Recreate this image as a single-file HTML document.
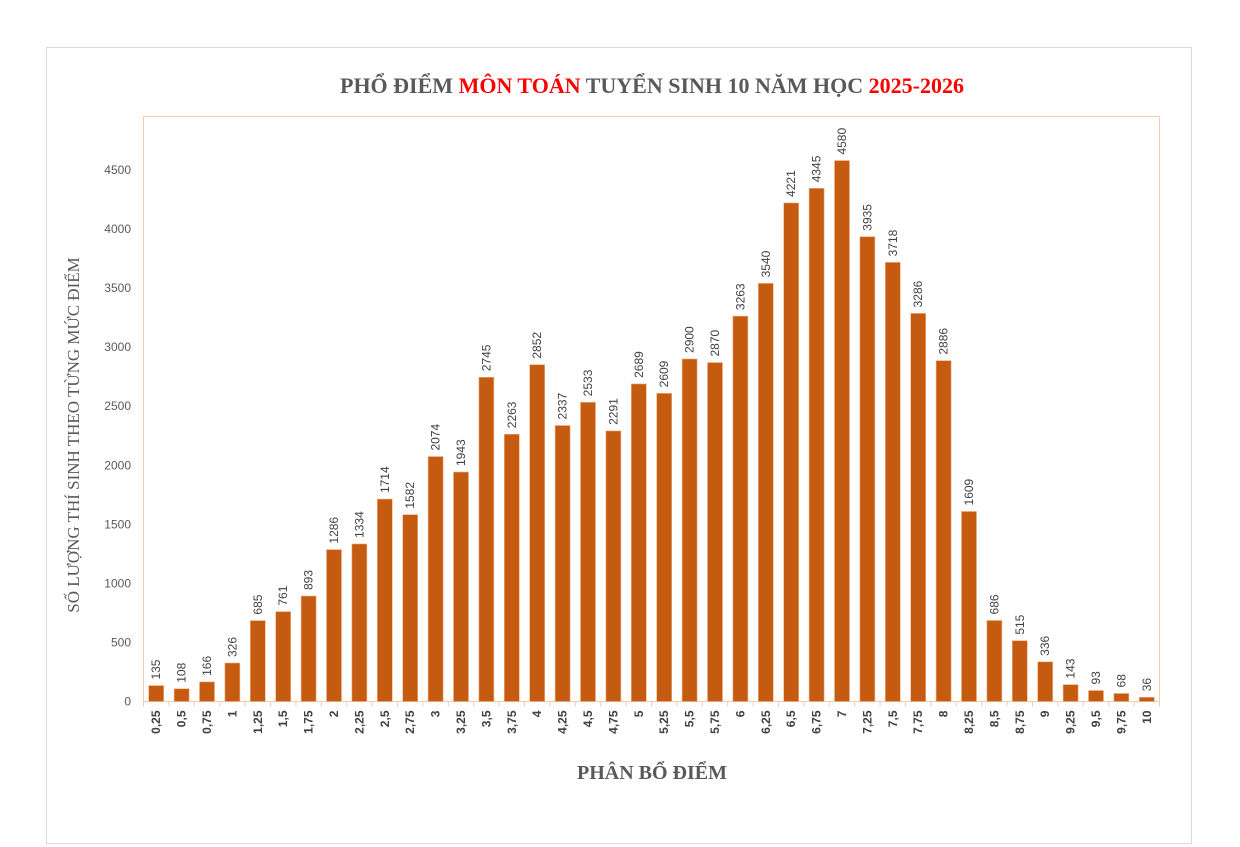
<!DOCTYPE html>
<html><head><meta charset="utf-8"><style>
body{margin:0;background:#fff;}
svg{display:block;font-family:"Liberation Sans",sans-serif;}
</style></head><body>
<svg id="c" width="1240" height="847">
<rect x="46.5" y="47.5" width="1145" height="796" fill="#fff" stroke="#d9d9d9"/>
<text x="652" y="93" text-anchor="middle" font-family="Liberation Serif,serif" font-weight="bold" font-size="22" fill="#595959">PHỔ ĐIỂM <tspan fill="#ff0000">MÔN TOÁN</tspan> TUYỂN SINH 10 NĂM HỌC <tspan fill="#ff0000">2025-2026</tspan></text>
<rect x="143.5" y="116.5" width="1016" height="585" fill="none" stroke="#f8cbad"/>
<text transform="translate(79,435) rotate(-90)" text-anchor="middle" font-family="Liberation Serif,serif" font-size="17" fill="#595959">SỐ LƯỢNG THÍ SINH THEO TỪNG MỨC ĐIỂM</text>
<text x="652" y="779" text-anchor="middle" font-family="Liberation Serif,serif" font-weight="bold" font-size="20" fill="#595959">PHÂN BỔ ĐIỂM</text>
<g id="g"></g>
</svg>
<script>
const categories=["0,25","0,5","0,75","1","1,25","1,5","1,75","2","2,25","2,5","2,75","3","3,25","3,5","3,75","4","4,25","4,5","4,75","5","5,25","5,5","5,75","6","6,25","6,5","6,75","7","7,25","7,5","7,75","8","8,25","8,5","8,75","9","9,25","9,5","9,75","10"];
const values=[135,108,166,326,685,761,893,1286,1334,1714,1582,2074,1943,2745,2263,2852,2337,2533,2291,2689,2609,2900,2870,3263,3540,4221,4345,4580,3935,3718,3286,2886,1609,686,515,336,143,93,68,36];
const yTicks=[0,500,1000,1500,2000,2500,3000,3500,4000,4500];
const NS="http://www.w3.org/2000/svg";
const g=document.getElementById('g');
const x0=143.5,x1=1159.5,y0=701.5,yTop=170;
const slot=(x1-x0)/categories.length;
const xs=i=>x0+slot*(i+0.5);
const ys=v=>y0-(v/4500)*(y0-yTop);
function mk(t,a){const e=document.createElementNS(NS,t);for(const k in a)e.setAttribute(k,a[k]);g.appendChild(e);return e;}
yTicks.forEach(t=>{
 const e=mk('text',{x:131,y:ys(t)+4,'text-anchor':'end','font-size':12,fill:'#595959'});
 
 
 e.textContent=t;
});
mk('line',{x1:x0,x2:x1,y1:y0,y2:y0,stroke:'#f8cbad'});
for(let i=0;i<=categories.length;i++){
 mk('line',{x1:x0+slot*i,x2:x0+slot*i,y1:y0,y2:y0+5,stroke:'#f8cbad'});
}
values.forEach((v,i)=>{
 const cx=xs(i),w=15;
 const r=mk('rect',{x:cx-w/2,y:ys(v),width:w,height:y0-ys(v),fill:'#c55a11',stroke:'#f4b183','stroke-width':0.6});
 
 
 const l=mk('text',{transform:`translate(${cx+4},${ys(v)-6}) rotate(-90)`,'font-size':12,fill:'#404040'});
 
 
 l.textContent=v;
 const c=mk('text',{transform:`translate(${cx+4},${y0+9}) rotate(-90)`,'text-anchor':'end','font-size':12,'font-weight':'bold',fill:'#404040'});
 
 
 c.textContent=categories[i];
});
</script>
</body></html>
